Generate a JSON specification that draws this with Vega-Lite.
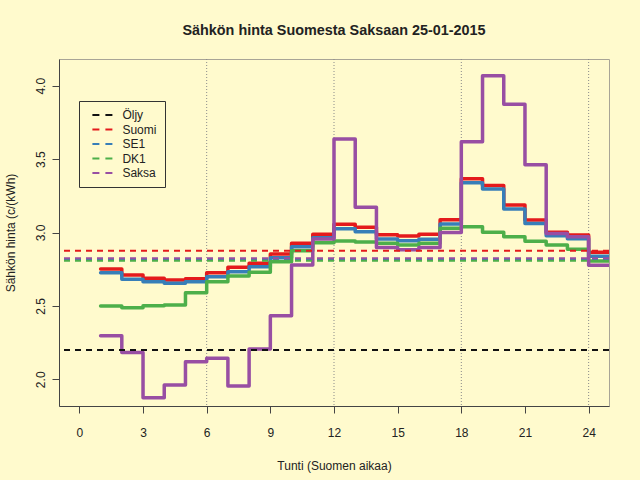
{
  "$schema": "https://vega.github.io/schema/vega-lite/v6.json",
  "width": 550,
  "height": 347,
  "autosize": {"type": "none"},
  "padding": {"left": 59, "top": 59, "right": 31, "bottom": 74},
  "background": "#FFFACD",
  "title": {"text": "Sähkön hinta Suomesta Saksaan 25-01-2015", "font": "Liberation Sans", "fontSize": 14.4, "fontWeight": "bold", "color": "#222222", "anchor": "middle", "baseline": "alphabetic", "offset": 9},
  "config": {"view": {"stroke": "#a8a496", "strokeWidth": 1}, "font": "Liberation Sans"},
  "datasets": {
    "steps": [
      {"h": 1, "Suomi": 2.751, "SE1": 2.726, "DK1": 2.499, "Saksa": 2.296},
      {"h": 2, "Suomi": 2.710, "SE1": 2.681, "DK1": 2.488, "Saksa": 2.183},
      {"h": 3, "Suomi": 2.688, "SE1": 2.665, "DK1": 2.501, "Saksa": 1.875},
      {"h": 4, "Suomi": 2.676, "SE1": 2.654, "DK1": 2.506, "Saksa": 1.961},
      {"h": 5, "Suomi": 2.685, "SE1": 2.665, "DK1": 2.590, "Saksa": 2.120},
      {"h": 6, "Suomi": 2.726, "SE1": 2.699, "DK1": 2.665, "Saksa": 2.143},
      {"h": 7, "Suomi": 2.763, "SE1": 2.733, "DK1": 2.704, "Saksa": 1.954},
      {"h": 8, "Suomi": 2.790, "SE1": 2.767, "DK1": 2.729, "Saksa": 2.206},
      {"h": 9, "Suomi": 2.853, "SE1": 2.828, "DK1": 2.801, "Saksa": 2.433},
      {"h": 10, "Suomi": 2.926, "SE1": 2.903, "DK1": 2.876, "Saksa": 2.779},
      {"h": 11, "Suomi": 2.988, "SE1": 2.965, "DK1": 2.930, "Saksa": 2.955},
      {"h": 12, "Suomi": 3.056, "SE1": 3.026, "DK1": 2.942, "Saksa": 3.637},
      {"h": 13, "Suomi": 3.035, "SE1": 3.005, "DK1": 2.935, "Saksa": 3.172},
      {"h": 14, "Suomi": 2.985, "SE1": 2.956, "DK1": 2.926, "Saksa": 2.897},
      {"h": 15, "Suomi": 2.976, "SE1": 2.944, "DK1": 2.915, "Saksa": 2.883},
      {"h": 16, "Suomi": 2.988, "SE1": 2.954, "DK1": 2.926, "Saksa": 2.897},
      {"h": 17, "Suomi": 3.087, "SE1": 3.058, "DK1": 3.029, "Saksa": 3.000},
      {"h": 18, "Suomi": 3.366, "SE1": 3.339, "DK1": 3.040, "Saksa": 3.619},
      {"h": 19, "Suomi": 3.321, "SE1": 3.296, "DK1": 3.001, "Saksa": 4.068},
      {"h": 20, "Suomi": 3.187, "SE1": 3.160, "DK1": 2.971, "Saksa": 3.873},
      {"h": 21, "Suomi": 3.085, "SE1": 3.062, "DK1": 2.940, "Saksa": 3.462},
      {"h": 22, "Suomi": 3.001, "SE1": 2.978, "DK1": 2.915, "Saksa": 2.994},
      {"h": 23, "Suomi": 2.983, "SE1": 2.958, "DK1": 2.886, "Saksa": 2.971},
      {"h": 24, "Suomi": 2.865, "SE1": 2.838, "DK1": 2.806, "Saksa": 2.777},
      {"h": 25, "Suomi": 2.865, "SE1": 2.838, "DK1": 2.806, "Saksa": 2.777}
    ],
    "avg": [
      {"s": "Öljy", "v": 2.2},
      {"s": "Suomi", "v": 2.876},
      {"s": "SE1", "v": 2.82},
      {"s": "DK1", "v": 2.808},
      {"s": "Saksa", "v": 2.824}
    ],
    "vl": [{"h": 6}, {"h": 12}, {"h": 18}, {"h": 24}]
  },
  "layer": [
    {
      "data": {"name": "vl"},
      "mark": {"type": "rule", "color": "#8a8a8a", "strokeDash": [1, 2], "strokeWidth": 1},
      "encoding": {
        "x": {"field": "h", "type": "quantitative", "scale": {"domain": [-0.96, 24.96], "nice": false, "zero": false}}
      }
    },
    {
      "data": {"name": "steps"},
      "mark": {"type": "line", "interpolate": "step-after", "strokeWidth": 3.5, "strokeJoin": "round", "strokeCap": "round", "clip": true},
      "encoding": {
        "x": {"field": "h", "type": "quantitative", "scale": {"domain": [-0.96, 24.96], "nice": false, "zero": false},
          "axis": {"values": [0, 3, 6, 9, 12, 15, 18, 21, 24], "grid": false, "title": "Tunti (Suomen aikaa)", "domainColor": "#444444", "tickColor": "#444444", "tickSize": 7, "labelFont": "Liberation Sans", "labelFontSize": 12, "labelColor": "#222222", "labelPadding": 14, "labelFlush": false, "labelOverlap": false, "titleFont": "Liberation Sans", "titleFontSize": 12, "titleFontWeight": "normal", "titleColor": "#222222", "titleBaseline": "alphabetic", "titleY": 63}},
        "y": {"field": "Suomi", "type": "quantitative", "scale": {"domain": [1.818, 4.182], "nice": false, "zero": false},
          "axis": {"values": [2.0, 2.5, 3.0, 3.5, 4.0], "format": ".1f", "grid": false, "title": "Sähkön hinta (c/(kWh)", "domainColor": "#444444", "tickColor": "#444444", "tickSize": 7, "labelFont": "Liberation Sans", "labelFontSize": 12, "labelColor": "#222222", "labelAngle": 270, "labelAlign": "center", "labelBaseline": "middle", "labelPadding": 12, "labelFlush": false, "labelOverlap": false, "titleFont": "Liberation Sans", "titleFontSize": 12, "titleFontWeight": "normal", "titleColor": "#222222", "titleAngle": 270, "titleAlign": "center", "titleBaseline": "middle", "titleX": -49, "titleY": 173.5}},
        "color": {"datum": "Suomi", "type": "nominal"}
      }
    },
    {
      "data": {"name": "steps"},
      "mark": {"type": "line", "interpolate": "step-after", "strokeWidth": 3.5, "strokeJoin": "round", "strokeCap": "round", "clip": true},
      "encoding": {
        "x": {"field": "h", "type": "quantitative"},
        "y": {"field": "SE1", "type": "quantitative"},
        "color": {"datum": "SE1", "type": "nominal"}
      }
    },
    {
      "data": {"name": "steps"},
      "mark": {"type": "line", "interpolate": "step-after", "strokeWidth": 3.5, "strokeJoin": "round", "strokeCap": "round", "clip": true},
      "encoding": {
        "x": {"field": "h", "type": "quantitative"},
        "y": {"field": "DK1", "type": "quantitative"},
        "color": {"datum": "DK1", "type": "nominal"}
      }
    },
    {
      "data": {"name": "steps"},
      "mark": {"type": "line", "interpolate": "step-after", "strokeWidth": 3.5, "strokeJoin": "round", "strokeCap": "round", "clip": true},
      "encoding": {
        "x": {"field": "h", "type": "quantitative"},
        "y": {"field": "Saksa", "type": "quantitative"},
        "color": {"datum": "Saksa", "type": "nominal"}
      }
    },
    {
      "data": {"name": "avg"},
      "mark": {"type": "rule", "strokeWidth": 2, "strokeDash": [6, 5], "clip": true},
      "encoding": {
        "y": {"field": "v", "type": "quantitative"},
        "color": {"field": "s", "type": "nominal",
          "scale": {"domain": ["Öljy", "Suomi", "SE1", "DK1", "Saksa"], "range": ["#111111", "#E41A1C", "#377EB8", "#4DAF4A", "#984EA3"]},
          "legend": {"title": null, "orient": "none", "legendX": 20, "legendY": 42, "direction": "vertical", "symbolType": "M-4,0H4", "symbolSize": 25, "symbolStrokeWidth": 1.8, "symbolDash": [7, 6], "symbolOffset": 9.4, "labelFont": "Liberation Sans", "labelFontSize": 12, "labelColor": "#222222", "labelOffset": 14, "padding": 8, "strokeColor": "#333333", "rowPadding": 2.5}
        }
      }
    }
  ]
}
